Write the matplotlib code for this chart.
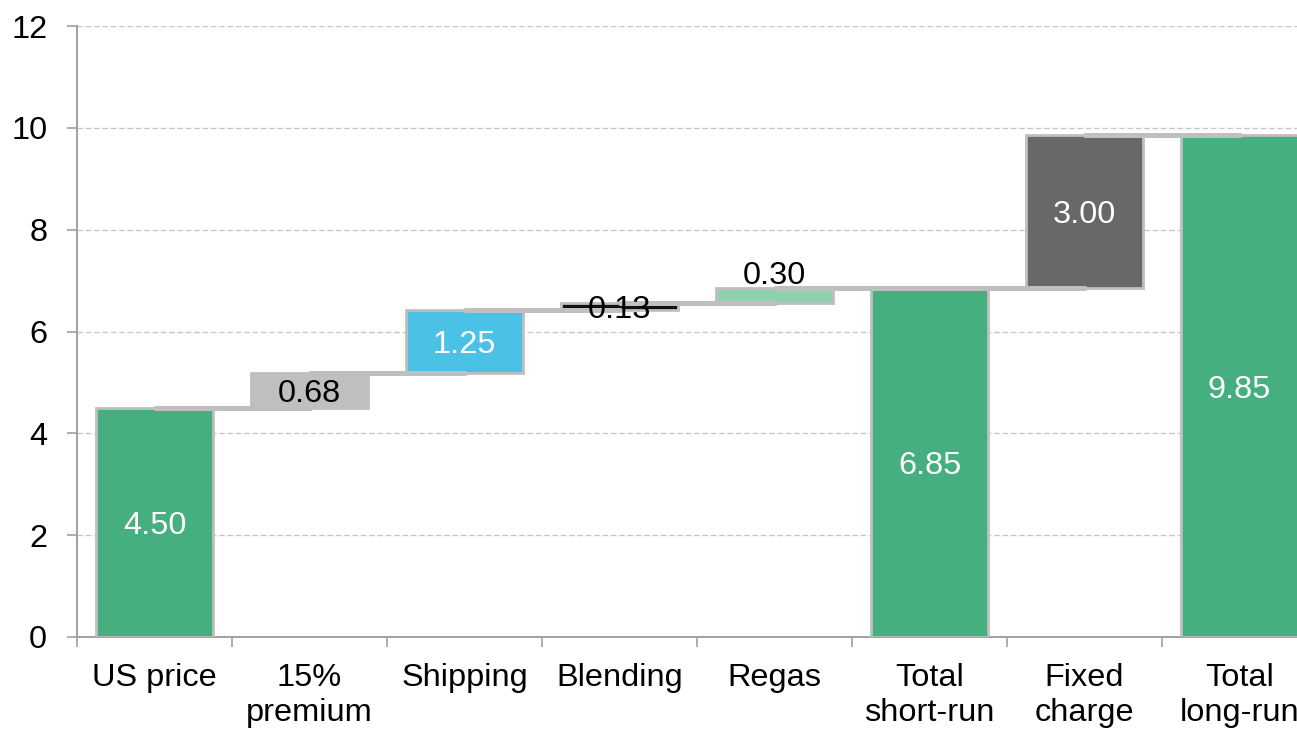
import matplotlib
matplotlib.use("Agg")
import matplotlib.pyplot as plt
import numpy as np

categories = ["US price", "15%\npremium", "Shipping", "Blending", "Regas",
              "Total\nshort-run", "Fixed\ncharge", "Total\nlong-run"]
values = [4.50, 0.68, 1.25, 0.13, 0.30, 6.85, 3.00, 9.85]
is_total = [True, False, False, False, False, True, False, True]
value_labels = ["4.50", "0.68", "1.25", "0.13", "0.30", "6.85", "3.00", "9.85"]
yticks = [0, 2, 4, 6, 8, 10, 12]

colors = ["#45AF7F", "#BFBFBF", "#4BC1E6", "#111111", "#8ED0B0",
          "#45AF7F", "#67686A", "#45AF7F"]
label_colors = ["white", "black", "white", "black", "black", "white", "white", "white"]
label_above = [False, False, False, False, True, False, False, False]

plt.rcParams['font.family'] = ['Liberation Sans', 'DejaVu Sans']
FS = 23.4

fig = plt.figure(figsize=(12.97, 7.30), dpi=100)
ax = fig.add_axes([77 / 1297, 1 - 637 / 730, 1240 / 1297, (637 - 26) / 730])

x = np.arange(len(categories))
bottoms, tops = [], []
running = 0.0
for v, t in zip(values, is_total):
    if t:
        b = 0.0
        top = v
    else:
        b = running
        top = running + v
    bottoms.append(b)
    tops.append(top)
    running = top

ax.bar(x, values, bottom=bottoms, width=0.76, color=colors,
       edgecolor="#BFBFBF", linewidth=2.0, zorder=3)

# connectors
for i in range(len(categories) - 1):
    ax.plot([x[i], x[i + 1]], [tops[i], tops[i]], color="#BFBFBF", lw=3.6,
            solid_capstyle="round", zorder=4)

for i in range(len(categories)):
    if label_above[i]:
        ax.annotate(value_labels[i], (x[i], tops[i]), xytext=(0, 3),
                    textcoords="offset points", ha="center", va="baseline",
                    fontsize=FS, color=label_colors[i], zorder=5)
    else:
        ax.text(x[i], bottoms[i] + values[i] / 2, value_labels[i],
                ha="center", va="center_baseline", fontsize=FS,
                color=label_colors[i], zorder=5)

ax.set_xlim(-0.5, len(categories) - 0.5)
ax.set_ylim(0, 12)
ax.set_yticks(yticks)
ax.set_yticklabels([str(t) for t in yticks], fontsize=FS)
ax.set_xticks(x)
ax.set_xticklabels(categories, fontsize=FS, linespacing=1.22)
ax.set_xticks(np.arange(-0.5, len(categories), 1.0), minor=True)
ax.tick_params(axis="x", which="major", length=0, pad=19)
ax.tick_params(axis="x", which="minor", length=7.5, width=1.2, color="#A0A0A0")
ax.tick_params(axis="y", length=7.5, width=1.2, color="#A0A0A0", pad=14)

ax.yaxis.grid(True, linestyle=(0, (4, 2)), color="#C8C8C8", lw=1.0, zorder=0)
ax.set_axisbelow(True)
for s in ["top", "right"]:
    ax.spines[s].set_visible(False)
for s in ["left", "bottom"]:
    ax.spines[s].set_color("#A0A0A0")
    ax.spines[s].set_linewidth(1.4)

fig.savefig("out.png", dpi=100)
